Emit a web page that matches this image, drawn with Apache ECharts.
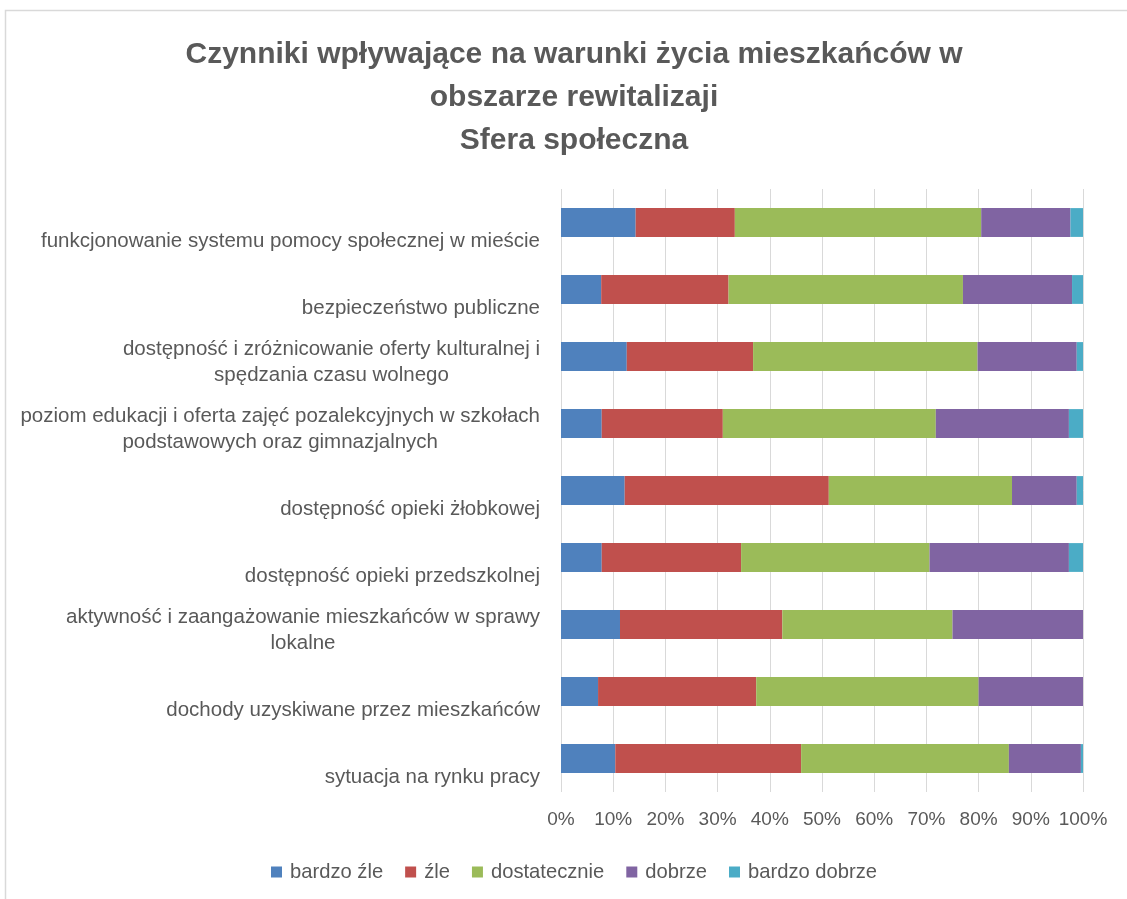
<!DOCTYPE html>
<html>
<head>
<meta charset="utf-8">
<script src="https://cdn.jsdelivr.net/npm/echarts@6/dist/echarts.min.js"></script>
<style>
html,body{margin:0;padding:0;background:#fff;}
#chart{width:1127px;height:899px;}
</style>
</head>
<body>
<div id="chart"></div>
<script>
// Categories, top to bottom
var categories = [
  'funkcjonowanie systemu pomocy społecznej w mieście',
  'bezpieczeństwo publiczne',
  'dostępność i zróżnicowanie oferty kulturalnej i\nspędzania czasu wolnego',
  'poziom edukacji i oferta zajęć pozalekcyjnych w szkołach\npodstawowych oraz gimnazjalnych',
  'dostępność opieki żłobkowej',
  'dostępność opieki przedszkolnej',
  'aktywność i zaangażowanie mieszkańców w sprawy\nlokalne',
  'dochody uzyskiwane przez mieszkańców',
  'sytuacja na rynku pracy'
];
var seriesNames = ['bardzo źle', 'źle', 'dostatecznie', 'dobrze', 'bardzo dobrze'];
var bardzoZle    = [14.3, 7.7, 12.6, 7.8, 12.2, 7.8, 11.3, 7.1, 10.4];
var zle          = [19.0, 24.4, 24.2, 23.2, 39.1, 26.7, 31.1, 30.3, 35.6];
var dostatecznie = [47.2, 44.9, 43.0, 40.8, 35.1, 36.1, 32.6, 42.6, 39.8];
var dobrze       = [17.1, 20.9, 19.0, 25.5, 12.4, 26.7, 25.0, 20.0, 13.8];
var bardzoDobrze = [2.4, 2.1, 1.2, 2.7, 1.2, 2.7, 0, 0, 0.4];
var tickLabelSuffix = '%';

var colors = ['#4F81BD', '#C0504D', '#9BBB59', '#8064A2', '#4BACC6'];
var values = [bardzoZle, zle, dostatecznie, dobrze, bardzoDobrze];
var FONT = '"Liberation Sans", Arial, sans-serif';
var TXT = '#595959';

var chart = echarts.init(document.getElementById('chart'));
var option = {
  backgroundColor: '#ffffff',
  animation: false,
  color: colors,
  textStyle: { fontFamily: FONT },
  title: {
    text: 'Czynniki wpływające na warunki życia mieszkańców w\nobszarze rewitalizaji\nSfera społeczna',
    left: 569,
    top: 28,
    textAlign: 'center',
    textStyle: { fontFamily: FONT, fontSize: 30, fontWeight: 'bold', color: TXT, lineHeight: 43 }
  },
  graphic: [{
    type: 'rect',
    shape: { x: 5.5, y: 10.5, width: 1300, height: 1000 },
    style: { fill: 'none', stroke: '#D9D9D9', lineWidth: 1.5 },
    silent: true, z: -10
  }],
  legend: {
    data: seriesNames,
    left: 266,
    top: 857,
    icon: 'rect',
    itemWidth: 11,
    itemHeight: 11,
    itemGap: 22,
    textStyle: { fontFamily: FONT, fontSize: 20.2, color: TXT, padding: [0, 0, 0, 3] }
  },
  grid: { left: 561, right: 44, top: 189, bottom: 107, containLabel: false },
  xAxis: {
    type: 'value',
    min: 0, max: 100, interval: 10,
    axisLine: { show: false },
    axisTick: { show: false },
    splitLine: { show: true, lineStyle: { color: '#D9D9D9', width: 1 } },
    axisLabel: {
      formatter: function (v) { return v + tickLabelSuffix; },
      fontFamily: FONT, fontSize: 19, color: TXT, margin: 18
    }
  },
  yAxis: {
    type: 'category',
    inverse: true,
    data: categories,
    axisLine: { show: false },
    axisTick: { show: false },
    splitLine: { show: false },
    axisLabel: {
      margin: 21,
      interval: 0,
      fontFamily: FONT, fontSize: 20.5, color: TXT, lineHeight: 26,
      padding: [12, 0, 0, 0],
      formatter: function (v) {
        var lines = v.split('\n');
        if (lines.length === 1) return '{e| }\n{c|' + lines[0] + '}';
        return lines.map(function (l) { return '{c|' + l + '}'; }).join('\n');
      },
      rich: {
        c: { align: 'center', fontFamily: FONT, fontSize: 20.5, color: TXT, lineHeight: 26 },
        e: { fontFamily: FONT, fontSize: 20.5, lineHeight: 26 }
      }
    }
  },
  series: seriesNames.map(function (name, i) {
    return {
      name: name,
      type: 'bar',
      stack: 'total',
      barWidth: '43%',
      data: values[i],
      itemStyle: { color: colors[i] }
    };
  })
};
chart.setOption(option);
</script>
</body>
</html>
